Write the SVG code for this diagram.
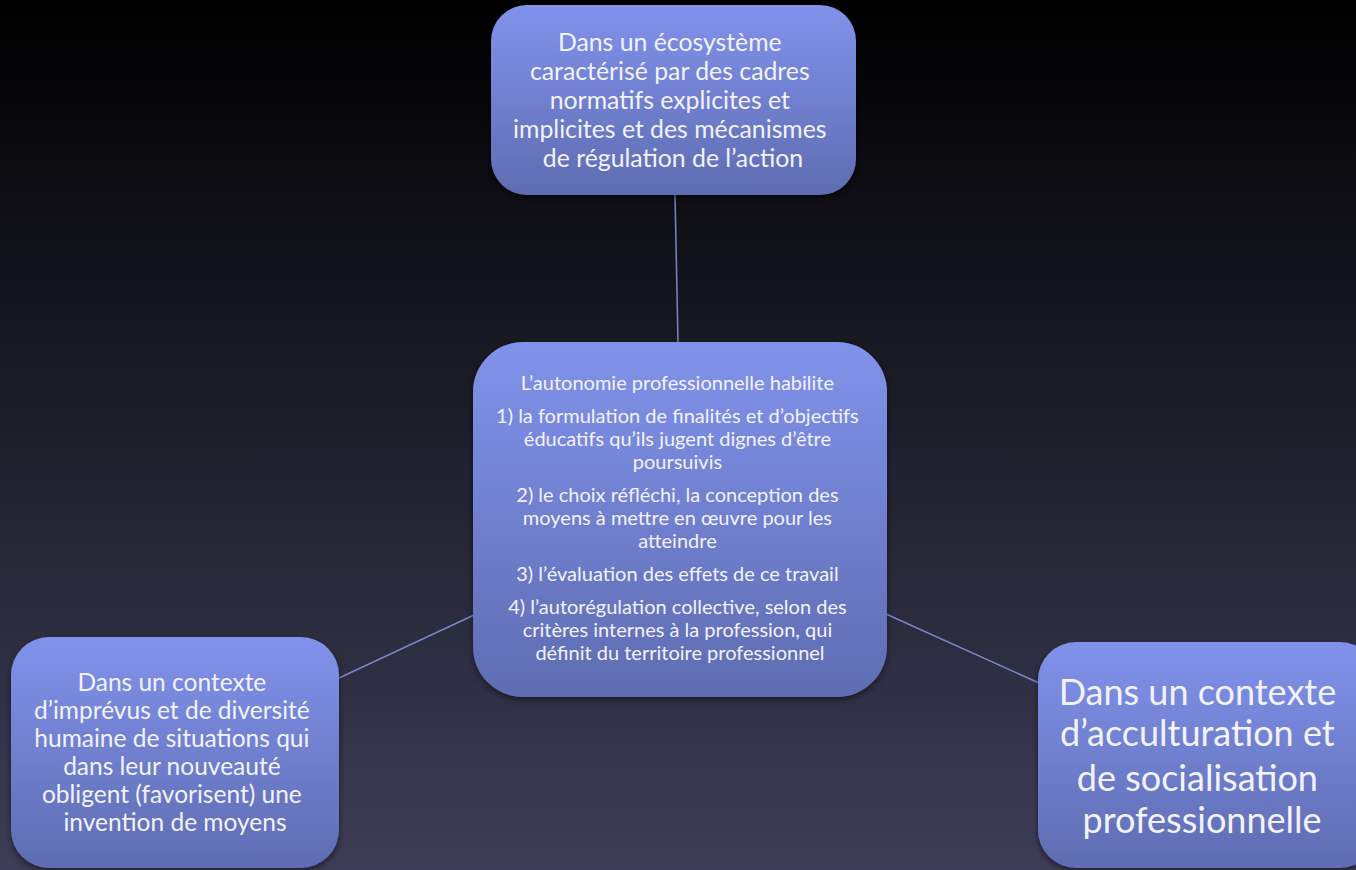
<svg xmlns="http://www.w3.org/2000/svg" width="1356" height="870" viewBox="0 0 1356 870">
<defs>
<linearGradient id="bg" x1="0" y1="0" x2="0" y2="1">
<stop offset="0" stop-color="#000000"/>
<stop offset="1" stop-color="#3d3d57"/>
</linearGradient>
<linearGradient id="box" x1="0" y1="0" x2="0" y2="1">
<stop offset="0" stop-color="#8192eb"/>
<stop offset="1" stop-color="#5f6cb1"/>
</linearGradient>
<filter id="sh" x="-10%" y="-10%" width="120%" height="130%">
<feDropShadow dx="0" dy="3" stdDeviation="3" flood-color="#000" flood-opacity="0.5"/>
</filter>
</defs>
<style>
.n{fill:url(#box);filter:url(#sh)}
.t{font-family:Lato,"Liberation Sans",sans-serif;fill:#f2f2fa;text-anchor:middle}
.c{stroke:#7b86c8;stroke-width:1.5;fill:none}
</style>
<rect width="1356" height="870" fill="url(#bg)"/>
<g id="connectors">
<line class="c" x1="675" y1="195" x2="678" y2="342"/>
<line class="c" x1="339" y1="678" x2="474" y2="615"/>
<line class="c" x1="886" y1="614" x2="1039" y2="683"/>
</g>
<g id="top">
<rect class="n" x="491" y="5" width="365" height="190" rx="36"/>
<text class="t" font-size="24.8">
<tspan x="673" y="51">Dans un écosystème</tspan>
<tspan x="673" y="80">caractérisé par des cadres</tspan>
<tspan x="673" y="109">normatifs explicites et</tspan>
<tspan x="673" y="138">implicites et des mécanismes</tspan>
<tspan x="673" y="167">de régulation de l’action</tspan>
</text>
</g>
<g id="center">
<rect class="n" x="473" y="342" width="414" height="355" rx="50"/>
<text class="t" font-size="20">
<tspan x="680" y="390">L’autonomie professionnelle habilite</tspan>
<tspan x="680" y="423">1) la formulation de finalités et d’objectifs</tspan>
<tspan x="680" y="446">éducatifs qu’ils jugent dignes d’être</tspan>
<tspan x="680" y="469">poursuivis</tspan>
<tspan x="680" y="502">2) le choix réfléchi, la conception des</tspan>
<tspan x="680" y="525">moyens à mettre en œuvre pour les</tspan>
<tspan x="680" y="548">atteindre</tspan>
<tspan x="680" y="581">3) l’évaluation des effets de ce travail</tspan>
<tspan x="680" y="614">4) l’autorégulation collective, selon des</tspan>
<tspan x="680" y="637">critères internes à la profession, qui</tspan>
<tspan x="680" y="660">définit du territoire professionnel</tspan>
</text>
</g>
<g id="left">
<rect class="n" x="11" y="637" width="328" height="231" rx="38"/>
<text class="t" font-size="24.5">
<tspan x="175" y="691">Dans un contexte</tspan>
<tspan x="175" y="719">d’imprévus et de diversité</tspan>
<tspan x="175" y="747">humaine de situations qui</tspan>
<tspan x="175" y="775">dans leur nouveauté</tspan>
<tspan x="175" y="803">obligent (favorisent) une</tspan>
<tspan x="175" y="831">invention de moyens</tspan>
</text>
</g>
<g id="right">
<rect class="n" x="1038" y="642" width="340" height="226" rx="38"/>
<text class="t" font-size="36">
<tspan x="1202" y="705">Dans un contexte</tspan>
<tspan x="1202" y="746">d’acculturation et</tspan>
<tspan x="1202" y="791">de socialisation</tspan>
<tspan x="1202" y="833">professionnelle</tspan>
</text>
</g>
</svg>
